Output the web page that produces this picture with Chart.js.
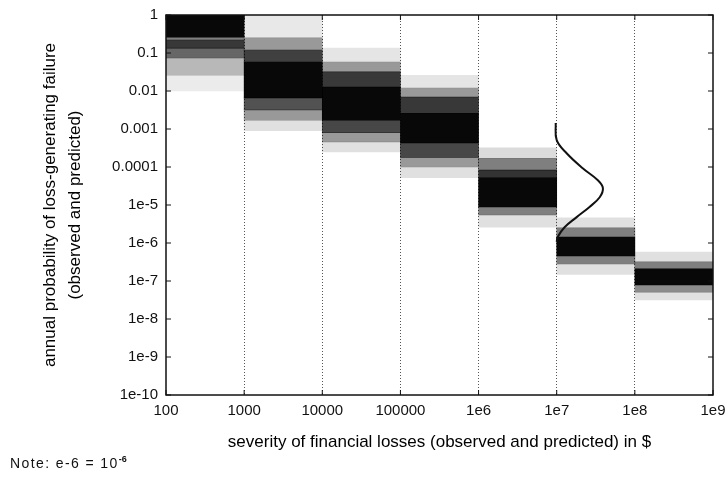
<!DOCTYPE html>
<html>
<head>
<meta charset="utf-8">
<script src="https://cdn.jsdelivr.net/npm/chart.js@4.4.0/dist/chart.umd.min.js"></script>
<style>
  body { margin: 0; background: #fff; }
  #wrap { position: relative; width: 728px; height: 478px; }
  #note { position: absolute; left: 10px; top: 454px; font: 14px "Liberation Sans", Arial, sans-serif; letter-spacing: 1.4px; color: #111; }
  #note sup { font-size: 9px; font-weight: bold; letter-spacing: 0; }
</style>
</head>
<body>
<div id="wrap">
  <canvas id="myChart"></canvas>
  <div id="note">Note: e-6 = 10<sup>-6</sup></div>
</div>
<script>
// one category per decade of loss severity
const categories = ['100-1000', '1000-10000', '10000-100000', '100000-1e6', '1e6-1e7', '1e7-1e8', '1e8-1e9'];
const xTickValues = [100, 1e3, 1e4, 1e5, 1e6, 1e7, 1e8, 1e9];
const xTickLabels = ['100', '1000', '10000', '100000', '1e6', '1e7', '1e8', '1e9'];
const yTickValues = [1, 0.1, 0.01, 0.001, 0.0001, 1e-5, 1e-6, 1e-7, 1e-8, 1e-9, 1e-10];
const yTickLabels = ['1', '0.1', '0.01', '0.001', '0.0001', '1e-5', '1e-6', '1e-7', '1e-8', '1e-9', '1e-10'];

// density strips per column: [upper, lower, darkness]
const band100 = [[1, 0.26, 0.97], [0.26, 0.22, 0.5], [0.22, 0.135, 0.78], [0.135, 0.074, 0.6], [0.074, 0.026, 0.28], [0.026, 0.01, 0.08]];
const band1000 = [[1, 0.25, 0.09], [0.25, 0.12, 0.4], [0.12, 0.058, 0.75], [0.058, 0.0066, 0.97], [0.0066, 0.0032, 0.68], [0.0032, 0.0017, 0.4], [0.0017, 0.0009, 0.12]];
const band1e4 = [[0.135, 0.058, 0.1], [0.058, 0.032, 0.4], [0.032, 0.0127, 0.78], [0.0127, 0.0017, 0.97], [0.0017, 0.0008, 0.72], [0.0008, 0.00046, 0.4], [0.00046, 0.00025, 0.12]];
const band1e5 = [[0.026, 0.012, 0.1], [0.012, 0.0069, 0.4], [0.0069, 0.0026, 0.78], [0.0026, 0.00043, 0.97], [0.00043, 0.00018, 0.72], [0.00018, 0.0001, 0.4], [0.0001, 0.000052, 0.12]];
const band1e6 = [[3.2e-4, 1.7e-4, 0.14], [1.7e-4, 8.3e-5, 0.5], [8.3e-5, 5.2e-5, 0.8], [5.2e-5, 8.9e-6, 0.97], [8.9e-6, 5.5e-6, 0.5], [5.5e-6, 2.6e-6, 0.12]];
const band1e7 = [[4.6e-6, 2.5e-6, 0.12], [2.5e-6, 1.44e-6, 0.5], [1.44e-6, 4.6e-7, 0.97], [4.6e-7, 2.8e-7, 0.5], [2.8e-7, 1.5e-7, 0.12]];
const band1e8 = [[5.8e-7, 3.2e-7, 0.12], [3.2e-7, 2.1e-7, 0.5], [2.1e-7, 7.9e-8, 0.97], [7.9e-8, 5.1e-8, 0.45], [5.1e-8, 3.2e-8, 0.12]];
const bands = [band100, band1000, band1e4, band1e5, band1e6, band1e7, band1e8];

// sideways bell curve in the 1e7-1e8 column
const curveX = [0.97e7, 1.0e7, 1.34e7, 2.15e7, 3.36e7, 3.9e7, 3.55e7, 2.63e7, 1.8e7, 1.26e7, 1.03e7, 1.0e7];
const curveY = [1.44e-3, 5.1e-4, 2.3e-4, 9.3e-5, 4.5e-5, 2.8e-5, 1.6e-5, 8.9e-6, 4.8e-6, 2.6e-6, 1.44e-6, 1.07e-6];

const datasets = [];
bands.forEach((strips, col) => {
  strips.forEach(([hi, lo, shade]) => {
    const data = categories.map(() => null);
    data[col] = [lo, hi];
    datasets.push({
      type: 'bar',
      xAxisID: 'xc',
      yAxisID: 'y',
      data: data,
      backgroundColor: `rgba(0, 0, 0, ${shade})`,
      borderWidth: 0,
      grouped: false,
      barPercentage: 1,
      categoryPercentage: 1,
      order: 2,
    });
  });
});
datasets.push({
  type: 'line',
  xAxisID: 'x',
  yAxisID: 'y',
  data: curveX.map((x, i) => ({ x: x, y: curveY[i] })),
  borderColor: '#111',
  borderWidth: 2,
  pointRadius: 0,
  tension: 0.4,
  fill: false,
  order: 0,
});

// frame round the plot plus short inward ticks at each decade
const framePlugin = {
  id: 'frame',
  afterDatasetsDraw(chart) {
    const { ctx, chartArea: a, scales } = chart;
    ctx.save();
    ctx.strokeStyle = '#111';
    ctx.lineWidth = 1.5;
    ctx.strokeRect(a.left, a.top, a.right - a.left, a.bottom - a.top);
    ctx.lineWidth = 1;
    ctx.beginPath();
    yTickValues.forEach((v) => {
      const py = scales.y.getPixelForValue(v);
      ctx.moveTo(a.left, py); ctx.lineTo(a.left + 5, py);
      ctx.moveTo(a.right, py); ctx.lineTo(a.right - 5, py);
    });
    xTickValues.forEach((v) => {
      const px = scales.x.getPixelForValue(v);
      ctx.moveTo(px, a.bottom); ctx.lineTo(px, a.bottom - 5);
      ctx.moveTo(px, a.top); ctx.lineTo(px, a.top + 5);
    });
    ctx.stroke();
    ctx.restore();
  },
};

const tickFont = { family: '"Liberation Sans", Arial, sans-serif', size: 15 };
const titleFont = { family: '"Liberation Sans", Arial, sans-serif', size: 17, lineHeight: 1.45 };

new Chart(document.getElementById('myChart').getContext('2d'), {
  type: 'bar',
  data: { labels: categories, datasets: datasets },
  plugins: [framePlugin],
  options: {
    responsive: true,
    maintainAspectRatio: false,
    animation: false,
    layout: { padding: { left: 0, right: 15, top: 15, bottom: 13 } },
    plugins: { legend: { display: false }, tooltip: { enabled: false } },
    scales: {
      xc: {
        type: 'category',
        labels: categories,
        offset: true,
        display: false,
      },
      x: {
        type: 'logarithmic',
        position: 'bottom',
        min: 100,
        max: 1e9,
        offset: false,
        afterBuildTicks: (scale) => { scale.ticks = xTickValues.map((v) => ({ value: v })); },
        afterFit: (scale) => {
          scale.height = 70;
          scale.paddingLeft = 0;
          scale.paddingRight = 0;
        },
        ticks: {
          font: tickFont,
          color: '#111',
          padding: 7,
          maxRotation: 0,
          autoSkip: false,
          callback: (v, i) => xTickLabels[i],
        },
        grid: {
          offset: false,
          drawTicks: false,
          lineWidth: 1,
          color: (ctx) => (ctx.tick && (ctx.tick.value === 100 || ctx.tick.value === 1e9) ? 'rgba(0,0,0,0)' : '#555'),
        },
        border: { display: false, dash: [1, 2] },
        title: {
          display: true,
          text: 'severity of financial losses (observed and predicted) in $',
          font: titleFont,
          color: '#000',
          padding: { top: 0, bottom: 10 },
        },
      },
      y: {
        type: 'logarithmic',
        min: 1e-10,
        max: 1,
        afterBuildTicks: (scale) => { scale.ticks = yTickValues.map((v) => ({ value: v })); },
        afterFit: (scale) => {
          scale.width = 166;
          scale.paddingTop = 0;
          scale.paddingBottom = 0;
        },
        ticks: {
          font: tickFont,
          color: '#111',
          padding: 8,
          autoSkip: false,
          callback: (v, i) => yTickLabels[i],
        },
        grid: { display: false, drawTicks: false },
        border: { display: false },
        title: {
          display: true,
          text: ['annual probability of loss-generating failure', '(observed and predicted)'],
          font: titleFont,
          color: '#000',
          padding: { top: 38, bottom: 0 },
        },
      },
    },
  },
});
</script>
</body>
</html>
